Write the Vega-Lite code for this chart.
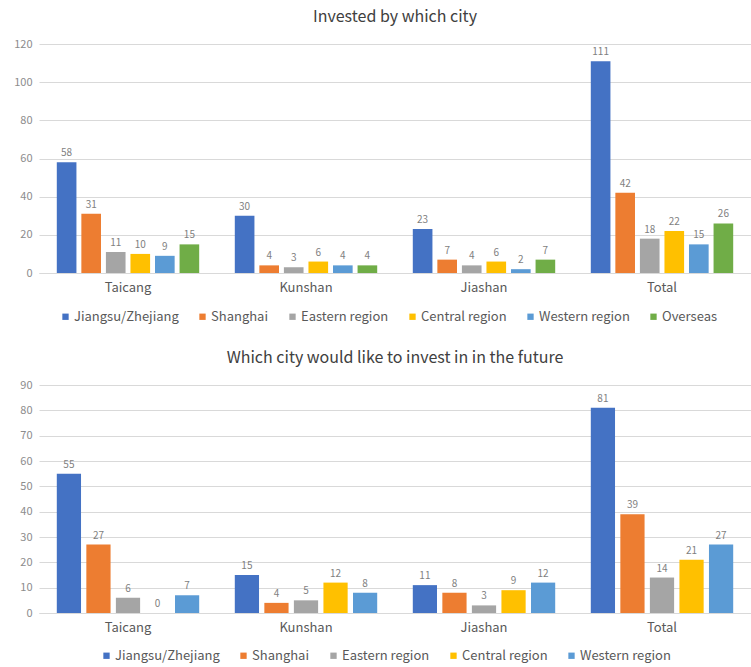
{
  "$schema": "https://vega.github.io/schema/vega-lite/v6.json",
  "padding": {"left": 13, "top": 9, "right": 0, "bottom": 0},
  "background": "white",
  "config": {
    "font": "Noto Sans CJK SC",
    "view": {"stroke": null},
    "title": {"fontSize": 16, "fontWeight": "normal", "color": "#404040", "anchor": "middle", "offset": 13},
    "axisY": {"domain": false, "ticks": false, "labelColor": "#8c8c8c", "labelFontSize": 11, "labelPadding": 7, "gridColor": "#d9d9d9", "gridWidth": 1, "title": null},
    "axisX": {"domain": true, "domainColor": "#d9d9d9", "ticks": false, "labelColor": "#595959", "labelFontSize": 13, "labelPadding": 8, "labelAngle": 0, "title": null, "grid": false},
    "legend": {"orient": "none", "direction": "horizontal", "symbolType": "square", "symbolSize": 40, "symbolStrokeWidth": 0, "labelColor": "#595959", "labelFontSize": 13, "labelOffset": 2, "columnPadding": 17, "title": null}
  },
  "datasets": {
    "invested": [
      {"city": "Taicang", "region": "Jiangsu/Zhejiang", "count": 58},
      {"city": "Taicang", "region": "Shanghai", "count": 31},
      {"city": "Taicang", "region": "Eastern region", "count": 11},
      {"city": "Taicang", "region": "Central region", "count": 10},
      {"city": "Taicang", "region": "Western region", "count": 9},
      {"city": "Taicang", "region": "Overseas", "count": 15},
      {"city": "Kunshan", "region": "Jiangsu/Zhejiang", "count": 30},
      {"city": "Kunshan", "region": "Shanghai", "count": 4},
      {"city": "Kunshan", "region": "Eastern region", "count": 3},
      {"city": "Kunshan", "region": "Central region", "count": 6},
      {"city": "Kunshan", "region": "Western region", "count": 4},
      {"city": "Kunshan", "region": "Overseas", "count": 4},
      {"city": "Jiashan", "region": "Jiangsu/Zhejiang", "count": 23},
      {"city": "Jiashan", "region": "Shanghai", "count": 7},
      {"city": "Jiashan", "region": "Eastern region", "count": 4},
      {"city": "Jiashan", "region": "Central region", "count": 6},
      {"city": "Jiashan", "region": "Western region", "count": 2},
      {"city": "Jiashan", "region": "Overseas", "count": 7},
      {"city": "Total", "region": "Jiangsu/Zhejiang", "count": 111},
      {"city": "Total", "region": "Shanghai", "count": 42},
      {"city": "Total", "region": "Eastern region", "count": 18},
      {"city": "Total", "region": "Central region", "count": 22},
      {"city": "Total", "region": "Western region", "count": 15},
      {"city": "Total", "region": "Overseas", "count": 26}
    ],
    "future": [
      {"city": "Taicang", "region": "Jiangsu/Zhejiang", "count": 55},
      {"city": "Taicang", "region": "Shanghai", "count": 27},
      {"city": "Taicang", "region": "Eastern region", "count": 6},
      {"city": "Taicang", "region": "Central region", "count": 0},
      {"city": "Taicang", "region": "Western region", "count": 7},
      {"city": "Kunshan", "region": "Jiangsu/Zhejiang", "count": 15},
      {"city": "Kunshan", "region": "Shanghai", "count": 4},
      {"city": "Kunshan", "region": "Eastern region", "count": 5},
      {"city": "Kunshan", "region": "Central region", "count": 12},
      {"city": "Kunshan", "region": "Western region", "count": 8},
      {"city": "Jiashan", "region": "Jiangsu/Zhejiang", "count": 11},
      {"city": "Jiashan", "region": "Shanghai", "count": 8},
      {"city": "Jiashan", "region": "Eastern region", "count": 3},
      {"city": "Jiashan", "region": "Central region", "count": 9},
      {"city": "Jiashan", "region": "Western region", "count": 12},
      {"city": "Total", "region": "Jiangsu/Zhejiang", "count": 81},
      {"city": "Total", "region": "Shanghai", "count": 39},
      {"city": "Total", "region": "Eastern region", "count": 14},
      {"city": "Total", "region": "Central region", "count": 21},
      {"city": "Total", "region": "Western region", "count": 27}
    ]
  },
  "resolve": {"scale": {"color": "independent", "y": "independent", "x": "independent", "xOffset": "independent"}, "legend": {"color": "independent"}},
  "spacing": 26,
  "vconcat": [
    {
      "title": "Invested by which city",
      "width": 712,
      "height": 229,
      "data": {"name": "invested"},
      "encoding": {
        "x": {"field": "city", "type": "nominal", "sort": ["Taicang", "Kunshan", "Jiashan", "Total"], "scale": {"paddingInner": 0.2, "paddingOuter": 0.1}},
        "xOffset": {"field": "region", "type": "nominal", "sort": ["Jiangsu/Zhejiang", "Shanghai", "Eastern region", "Central region", "Western region", "Overseas"], "scale": {"paddingInner": 0.2}},
        "y": {"field": "count", "type": "quantitative", "scale": {"domain": [0, 120]}, "axis": {"values": [0, 20, 40, 60, 80, 100, 120]}}
      },
      "layer": [
        {
          "mark": {"type": "bar"},
          "encoding": {
            "color": {"field": "region", "type": "nominal", "sort": ["Jiangsu/Zhejiang", "Shanghai", "Eastern region", "Central region", "Western region", "Overseas"],
              "scale": {"domain": ["Jiangsu/Zhejiang", "Shanghai", "Eastern region", "Central region", "Western region", "Overseas"], "range": ["#4472C4", "#ED7D31", "#A5A5A5", "#FFC000", "#5B9BD5", "#70AD47"]},
              "legend": {"legendX": 20, "legendY": 266}}
          }
        },
        {
          "mark": {"type": "text", "dy": -9, "fontSize": 10, "color": "#7f7f7f"},
          "encoding": {"text": {"field": "count", "type": "quantitative"}}
        }
      ]
    },
    {
      "title": "Which city would like to invest in in the future",
      "width": 712,
      "height": 228,
      "data": {"name": "future"},
      "encoding": {
        "x": {"field": "city", "type": "nominal", "sort": ["Taicang", "Kunshan", "Jiashan", "Total"], "scale": {"paddingInner": 0.2, "paddingOuter": 0.1}},
        "xOffset": {"field": "region", "type": "nominal", "sort": ["Jiangsu/Zhejiang", "Shanghai", "Eastern region", "Central region", "Western region"], "scale": {"paddingInner": 0.18}},
        "y": {"field": "count", "type": "quantitative", "scale": {"domain": [0, 90]}, "axis": {"values": [0, 10, 20, 30, 40, 50, 60, 70, 80, 90]}}
      },
      "layer": [
        {
          "mark": {"type": "bar"},
          "encoding": {
            "color": {"field": "region", "type": "nominal", "sort": ["Jiangsu/Zhejiang", "Shanghai", "Eastern region", "Central region", "Western region"],
              "scale": {"domain": ["Jiangsu/Zhejiang", "Shanghai", "Eastern region", "Central region", "Western region"], "range": ["#4472C4", "#ED7D31", "#A5A5A5", "#FFC000", "#5B9BD5"]},
              "legend": {"legendX": 61, "legendY": 264}}
          }
        },
        {
          "mark": {"type": "text", "dy": -9, "fontSize": 10, "color": "#7f7f7f"},
          "encoding": {"text": {"field": "count", "type": "quantitative"}}
        }
      ]
    }
  ]
}
